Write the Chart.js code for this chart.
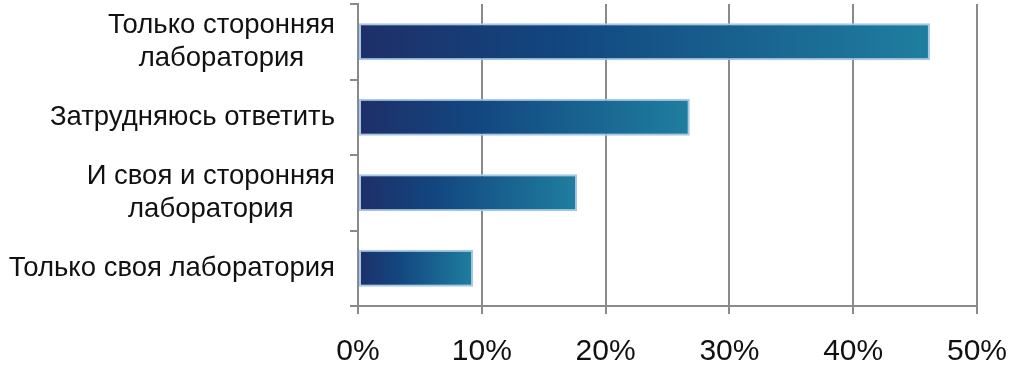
<!DOCTYPE html><html>
<meta charset="UTF-8">
<script src="https://cdn.jsdelivr.net/npm/chart.js@4/dist/chart.umd.min.js"></script>
<style>
 body{margin:0;background:#fff}
 #wrap{width:1024px;height:366px}
</style>
<div id="wrap"><canvas id="canvas_labs"></canvas></div>
<script>
// data
var categories = [
 ['Только сторонняя', 'лаборатория'],
 ['Затрудняюсь ответить'],
 ['И своя и сторонняя', 'лаборатория'],
 ['Только своя лаборатория']
];
var shares = [46.2, 26.8, 17.7, 9.3];
var xTicks = [0, 10, 20, 30, 40, 50];

var FONT = '"Liberation Sans", Arial, Helvetica, sans-serif';
var GRID = '#8a8a8a';

function barGradient(ctx){
 var chart = ctx.chart;
 if (!chart.chartArea || ctx.raw === undefined) return '#174f86';
 var xs = chart.scales.x;
 var x0 = xs.getPixelForValue(0), x1 = xs.getPixelForValue(ctx.raw);
 var g = chart.ctx.createLinearGradient(x0, 0, x1, 0);
 g.addColorStop(0, '#1e2f69');
 g.addColorStop(0.35, '#12467f');
 g.addColorStop(1, '#1f7ea0');
 return g;
}

// lines of each label are centred on each other, blocks sit right against the axis
var centredLabels = {
 id: 'centredLabels',
 afterDraw: function(chart){
  var ys = chart.scales.y, c = chart.ctx, lineH = 33;
  var right = ys.right - 23;
  c.save();
  c.font = '27.5px ' + FONT;
  c.fillStyle = '#111';
  c.textAlign = 'center';
  c.textBaseline = 'middle';
  categories.forEach(function(lines, i){
   var yc = ys.getPixelForTick(i);
   var w = Math.max.apply(null, lines.map(function(l){ return c.measureText(l).width; }));
   var cx = right - w / 2;
   lines.forEach(function(l, j){
    c.fillText(l, cx, yc + (j - (lines.length - 1) / 2) * lineH);
   });
  });
  c.restore();
 }
};

new Chart(document.getElementById('canvas_labs'), {
 type: 'bar',
 data: {
  labels: categories,
  datasets: [{
   data: shares,
   backgroundColor: barGradient,
   borderColor: '#a6c8e8',
   borderWidth: 2,
   borderSkipped: false,
   barPercentage: 0.49,
   categoryPercentage: 1
  }]
 },
 options: {
  indexAxis: 'y',
  responsive: true,
  maintainAspectRatio: false,
  animation: false,
  layout: {padding: {left: 0, top: 4, right: 0, bottom: 0}},
  plugins: {legend: {display: false}, tooltip: {enabled: false}},
  scales: {
   x: {
    min: 0, max: 50,
    afterBuildTicks: function(s){ s.ticks = xTicks.map(function(v){ return {value: v}; }); },
    afterFit: function(s){ s.height = 60; s.paddingRight = 47; },
    ticks: {
     color: '#111', padding: 20,
     font: {family: FONT, size: 30},
     callback: function(v){ return v + '%'; }
    },
    grid: {color: GRID, lineWidth: 2, tickLength: 8},
    border: {color: GRID, width: 2}
   },
   y: {
    afterFit: function(s){ s.width = 358; },
    ticks: {display: false},
    grid: {drawOnChartArea: false, color: GRID, lineWidth: 2, tickLength: 8, offset: true},
    border: {color: GRID, width: 2}
   }
  }
 },
 plugins: [centredLabels]
});
</script>
</html>
